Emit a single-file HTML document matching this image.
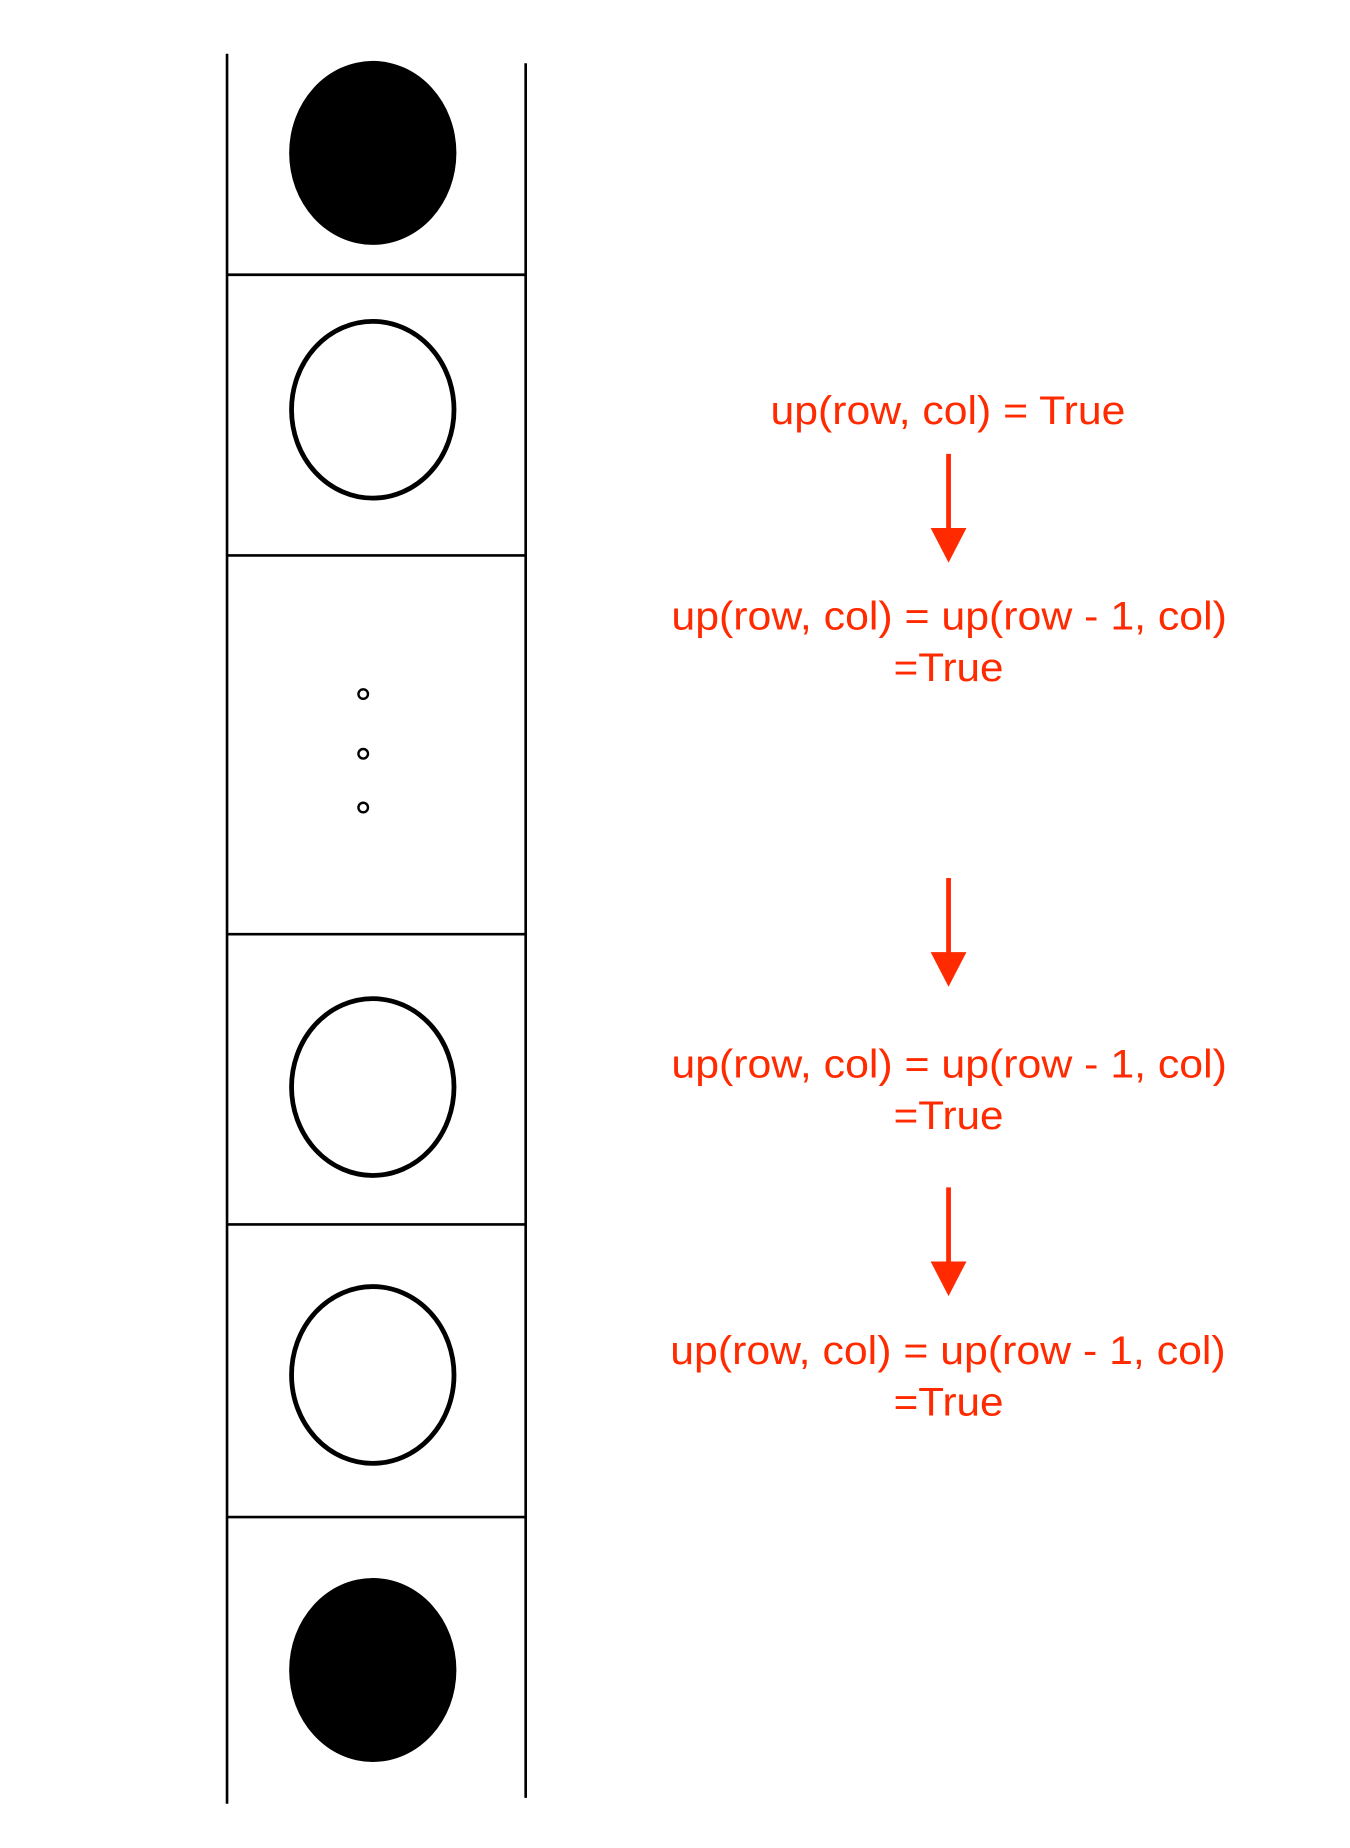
<!DOCTYPE html>
<html><head><meta charset="utf-8"><style>html,body{margin:0;padding:0;background:#fff}svg{display:block}</style></head>
<body>
<svg width="1350" height="1848" viewBox="0 0 1130 1547" xmlns="http://www.w3.org/2000/svg">
<rect width="1130" height="1547" fill="#fff"/>
<g stroke="#000" stroke-width="2.2">
<line x1="190" y1="45" x2="190" y2="1510"/>
<line x1="440" y1="53" x2="440" y2="1505"/>
<line x1="190" y1="230" x2="440" y2="230"/>
<line x1="190" y1="465" x2="440" y2="465"/>
<line x1="190" y1="782" x2="440" y2="782"/>
<line x1="190" y1="1025" x2="440" y2="1025"/>
<line x1="190" y1="1270" x2="440" y2="1270"/>
</g>
<ellipse cx="312" cy="128" rx="70" ry="77" fill="#000"/>
<ellipse cx="312" cy="343" rx="68" ry="74" fill="none" stroke="#000" stroke-width="4"/>
<circle cx="304" cy="581" r="4" fill="none" stroke="#000" stroke-width="2"/>
<circle cx="304" cy="631" r="4" fill="none" stroke="#000" stroke-width="2"/>
<circle cx="304" cy="676" r="4" fill="none" stroke="#000" stroke-width="2"/>
<ellipse cx="312" cy="910" rx="68" ry="74" fill="none" stroke="#000" stroke-width="4"/>
<ellipse cx="312" cy="1151" rx="68" ry="74" fill="none" stroke="#000" stroke-width="4"/>
<ellipse cx="312" cy="1398" rx="70" ry="77" fill="#000"/>
<g fill="#ff2a00" font-family="Liberation Sans, sans-serif" font-size="33" lengthAdjust="spacingAndGlyphs">
<text x="645" y="355" textLength="297" lengthAdjust="spacingAndGlyphs">up(row, col) = True</text>
<text x="562" y="527" textLength="465" lengthAdjust="spacingAndGlyphs">up(row, col) = up(row - 1, col)</text>
<text x="748" y="570" textLength="92" lengthAdjust="spacingAndGlyphs">=True</text>
<text x="562" y="902" textLength="465" lengthAdjust="spacingAndGlyphs">up(row, col) = up(row - 1, col)</text>
<text x="748" y="945" textLength="92" lengthAdjust="spacingAndGlyphs">=True</text>
<text x="561" y="1142" textLength="465" lengthAdjust="spacingAndGlyphs">up(row, col) = up(row - 1, col)</text>
<text x="748" y="1185" textLength="92" lengthAdjust="spacingAndGlyphs">=True</text>
</g>
<g fill="#ff2a00" stroke="#ff2a00">
<line x1="794" y1="380" x2="794" y2="445" stroke-width="4"/>
<polygon points="779,442 809,442 794,471" stroke="none"/>
</g>
<g fill="#ff2a00" stroke="#ff2a00">
<line x1="794" y1="735" x2="794" y2="800" stroke-width="4"/>
<polygon points="779,797 809,797 794,826" stroke="none"/>
</g>
<g fill="#ff2a00" stroke="#ff2a00">
<line x1="794" y1="994" x2="794" y2="1059" stroke-width="4"/>
<polygon points="779,1056 809,1056 794,1085" stroke="none"/>
</g>
</svg>
</body></html>
